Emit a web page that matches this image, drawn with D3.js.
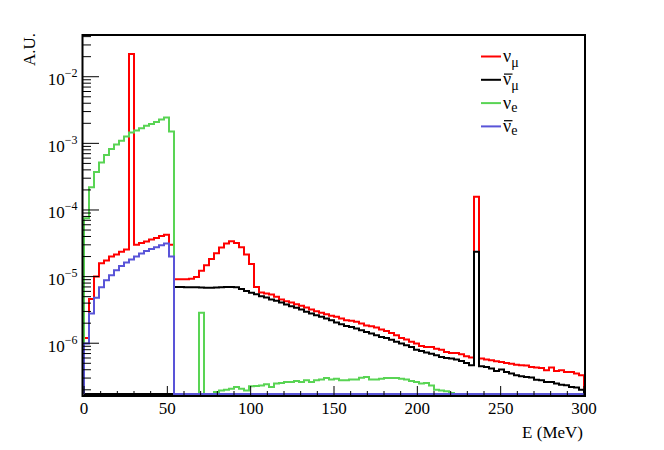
<!DOCTYPE html>
<html>
<head>
<meta charset="utf-8">
<script src="https://cdn.jsdelivr.net/npm/d3@7"></script>
<style>
body { margin: 0; background: #fff; }
text { font-family: "Liberation Serif", "DejaVu Serif", serif; fill: #000; }
</style>
</head>
<body>
<div id="chart"></div>
<script>
var width = 664,
height = 450;

// 100 bins of 3 MeV from 0 to 300
var binEdges = d3.range(0, 301, 3);

var numu = [
	1.2e-6, 4.6e-6, 1.0e-5, 1.58e-5, 1.75e-5, 2.0e-5, 2.15e-5, 2.36e-5, 2.55e-5, 2.2e-2,
	3.0e-5, 3.2e-5, 3.37e-5, 3.6e-5, 3.8e-5, 4.06e-5, 4.26e-5, 3.0e-5, 9.1e-6, 9.1e-6,
	9.1e-6, 9.3e-6, 9.9e-6, 1.22e-5, 1.48e-5, 1.84e-5, 2.24e-5, 2.73e-5, 3.15e-5, 3.4e-5,
	3.2e-5, 2.75e-5, 2.15e-5, 1.54e-5, 7.0e-6, 5.75e-6, 5.6e-6, 5.39e-6, 4.98e-6, 4.54e-6,
	4.28e-6, 4.09e-6, 3.86e-6, 3.64e-6, 3.44e-6, 3.21e-6, 3.03e-6, 2.86e-6, 2.73e-6, 2.58e-6,
	2.49e-6, 2.35e-6, 2.22e-6, 2.17e-6, 2.1e-6, 1.98e-6, 1.85e-6, 1.8e-6, 1.72e-6, 1.61e-6,
	1.53e-6, 1.43e-6, 1.32e-6, 1.2e-6, 1.14e-6, 1.05e-6, 9.9e-7, 9.1e-7, 8.8e-7, 8.8e-7,
	8.3e-7, 8.0e-7, 7.4e-7, 7.15e-7, 7.15e-7, 6.84e-7, 6.38e-7, 6.1e-7, 1.58e-4, 5.89e-7,
	5.69e-7, 5.55e-7, 5.36e-7, 5.24e-7, 5.06e-7, 4.94e-7, 4.77e-7, 4.67e-7, 4.62e-7, 4.41e-7,
	4.31e-7, 4.25e-7, 3.93e-7, 4.31e-7, 3.84e-7, 3.93e-7, 3.71e-7, 3.71e-7, 3.5e-7, 3.3e-7
];

var numubar = [
	0, 0, 0, 0, 0, 0, 0, 0, 0, 0,
	0, 0, 0, 0, 0, 0, 0, 0, 7.0e-6, 7.0e-6,
	6.95e-6, 6.9e-6, 6.9e-6, 6.85e-6, 6.8e-6, 6.8e-6, 6.85e-6, 6.9e-6, 7.0e-6, 7.0e-6,
	6.9e-6, 6.5e-6, 6.1e-6, 5.7e-6, 5.45e-6, 5.09e-6, 4.86e-6, 4.54e-6, 4.33e-6, 4.09e-6,
	3.82e-6, 3.6e-6, 3.4e-6, 3.21e-6, 2.96e-6, 2.8e-6, 2.64e-6, 2.49e-6, 2.35e-6, 2.22e-6,
	2.05e-6, 1.93e-6, 1.82e-6, 1.76e-6, 1.66e-6, 1.57e-6, 1.48e-6, 1.4e-6, 1.32e-6, 1.24e-6,
	1.2e-6, 1.13e-6, 1.05e-6, 9.9e-7, 9.3e-7, 8.8e-7, 8.0e-7, 7.66e-7, 7.24e-7, 6.98e-7,
	6.6e-7, 6.22e-7, 6.01e-7, 5.89e-7, 5.69e-7, 5.42e-7, 5.06e-7, 4.67e-7, 2.36e-5, 4.51e-7,
	4.41e-7, 4.16e-7, 3.84e-7, 4.02e-7, 3.71e-7, 3.5e-7, 3.3e-7, 3.19e-7, 3.11e-7, 3.05e-7,
	2.84e-7, 2.78e-7, 2.62e-7, 2.62e-7, 2.48e-7, 2.39e-7, 2.34e-7, 2.2e-7, 2.17e-7, 2.01e-7
];

var nue = [
	7.5e-5, 2.19e-4, 3.73e-4, 5.14e-4, 6.7e-4, 8.2e-4, 9.6e-4, 1.09e-3, 1.27e-3, 1.46e-3,
	1.56e-3, 1.69e-3, 1.83e-3, 1.96e-3, 2.1e-3, 2.28e-3, 2.44e-3, 1.51e-3, 0, 0,
	0, 0, 0, 2.86e-6, 0, 0, 1.85e-7, 1.96e-7, 2.01e-7, 2.08e-7,
	2.2e-7, 2.08e-7, 1.96e-7, 2.26e-7, 2.28e-7, 2.33e-7, 2.42e-7, 2.2e-7, 2.48e-7, 2.53e-7,
	2.62e-7, 2.62e-7, 2.71e-7, 2.62e-7, 2.78e-7, 2.62e-7, 2.78e-7, 2.85e-7, 3.01e-7, 2.85e-7,
	2.94e-7, 2.78e-7, 2.78e-7, 2.85e-7, 2.85e-7, 3.04e-7, 3.12e-7, 2.85e-7, 2.85e-7, 2.94e-7,
	3.01e-7, 3.01e-7, 3.01e-7, 2.94e-7, 2.85e-7, 2.71e-7, 2.62e-7, 2.48e-7, 2.53e-7, 2.33e-7,
	2.01e-7, 1.96e-7, 1.91e-7, 1.79e-7, 0, 0, 0, 0, 0, 0,
	0, 0, 0, 0, 0, 0, 0, 0, 0, 0,
	0, 0, 0, 0, 0, 0, 0, 0, 0, 0
];

var nuebar = [
	9.9e-7, 2.8e-6, 4.8e-6, 6.9e-6, 8.85e-6, 1.05e-5, 1.25e-5, 1.44e-5, 1.63e-5, 1.81e-5,
	2.0e-5, 2.23e-5, 2.42e-5, 2.6e-5, 2.75e-5, 2.95e-5, 3.15e-5, 2.0e-5, 0, 0,
	0, 0, 0, 0, 0, 0, 0, 0, 0, 0,
	0, 0, 0, 0, 0, 0, 0, 0, 0, 0,
	0, 0, 0, 0, 0, 0, 0, 0, 0, 0,
	0, 0, 0, 0, 0, 0, 0, 0, 0, 0,
	0, 0, 0, 0, 0, 0, 0, 0, 0, 0,
	0, 0, 0, 0, 0, 0, 0, 0, 0, 0,
	0, 0, 0, 0, 0, 0, 0, 0, 0, 0,
	0, 0, 0, 0, 0, 0, 0, 0, 0, 0
];

var xTicks = [0, 50, 100, 150, 200, 250, 300];
var yTickExp = [-6, -5, -4, -3, -2];

var series = [
	{ id: "numu", sub: "\u03bc", bar: false, color: "#ff0000", values: numu },
	{ id: "numubar", sub: "\u03bc", bar: true, color: "#000000", values: numubar },
	{ id: "nue", sub: "e", bar: false, color: "#59d454", values: nue },
	{ id: "nuebar", sub: "e", bar: true, color: "#5954d8", values: nuebar }
];

var plotLeft = 84, plotRight = 584, plotTop = 35, plotBottom = 394;
var yMin = 1.73e-7, yMax = 4.23e-2;

var svg = d3.select("#chart")
.append("svg")
.attr("width", width)
.attr("height", height);

var xScale = d3.scaleLinear()
.domain([0, 300])
.range([plotLeft, plotRight]);

var yScale = d3.scaleLog()
.domain([yMin, yMax])
.range([plotBottom, plotTop])
.clamp(true);

function histPoints(vals) {
	var pts = [[xScale(binEdges[0]), plotBottom]];
	vals.forEach(function(v, i) {
		var yy = v > 0 ? yScale(v) : plotBottom;
		pts.push([xScale(binEdges[i]), yy]);
		pts.push([xScale(binEdges[i + 1]), yy]);
	});
	pts.push([xScale(binEdges[vals.length]), plotBottom]);
	return pts;
}

var line = d3.line();

svg.selectAll("path.hist")
.data(series)
.enter()
.append("path")
.attr("class", "hist")
.attr("d", function(d) { return line(histPoints(d.values)); })
.attr("fill", "none")
.attr("stroke", function(d) { return d.color; })
.attr("stroke-width", 2)
.attr("stroke-linejoin", "miter");

// frame
svg.append("rect")
.attr("x", 82.5)
.attr("y", plotTop)
.attr("width", 585 - 82.5)
.attr("height", 396 - plotTop)
.attr("fill", "none")
.attr("stroke", "#000")
.attr("stroke-width", 2);

// x ticks (inside, from the bottom)
var xMinor = d3.range(0, 301, 10);
svg.selectAll("line.xtick")
.data(xMinor)
.enter()
.append("line")
.attr("x1", function(d) { return xScale(d); })
.attr("x2", function(d) { return xScale(d); })
.attr("y1", 396)
.attr("y2", function(d) { return d % 50 == 0 ? 386 : 391; })
.attr("stroke", "#000")
.attr("stroke-width", 1);

svg.selectAll("text.xlabel")
.data(xTicks)
.enter()
.append("text")
.attr("x", function(d) { return xScale(d); })
.attr("y", 413.5)
.attr("text-anchor", "middle")
.attr("font-size", "17px")
.text(function(d) { return d; });

// y ticks (log, inside from the left)
var yMinor = [];
for (var e = -7; e <= -2; e++) {
	for (var k = 1; k <= 9; k++) {
		var v = k * Math.pow(10, e);
		if (v >= yMin && v <= yMax) yMinor.push({ v: v, major: k == 1 });
	}
}
svg.selectAll("line.ytick")
.data(yMinor)
.enter()
.append("line")
.attr("x1", 82.5)
.attr("x2", function(d) { return d.major ? 99 : 91; })
.attr("y1", function(d) { return yScale(d.v); })
.attr("y2", function(d) { return yScale(d.v); })
.attr("stroke", "#000")
.attr("stroke-width", 1);

var ylab = svg.selectAll("text.ylabel")
.data(yTickExp)
.enter()
.append("text")
.attr("x", 77.5)
.attr("y", function(d) { return yScale(Math.pow(10, d)) + 8.5; })
.attr("text-anchor", "end")
.attr("font-size", "17px");
ylab.append("tspan").text("10");
ylab.append("tspan")
.attr("dy", -8)
.attr("font-size", "12px")
.text(function(d) { return "\u2212" + (-d); });

// axis titles
svg.append("text")
.attr("x", 583)
.attr("y", 438)
.attr("text-anchor", "end")
.attr("font-size", "17px")
.text("E (MeV)");

svg.append("text")
.attr("transform", "translate(35,33) rotate(-90)")
.attr("text-anchor", "end")
.attr("font-size", "17px")
.text("A.U.");

// legend
var legTop = 56.5, legStep = 23.3;
var leg = svg.selectAll("g.leg")
.data(series)
.enter()
.append("g")
.attr("transform", function(d, i) { return "translate(0," + (legTop + i * legStep) + ")"; });

leg.append("line")
.attr("x1", 481)
.attr("x2", 501)
.attr("y1", 0)
.attr("y2", 0)
.attr("stroke", function(d) { return d.color; })
.attr("stroke-width", 2);

var legText = leg.append("text")
.attr("x", 503)
.attr("y", 5.5)
.attr("font-size", "18px");
legText.append("tspan").text("\u03bd");
legText.append("tspan")
.attr("dy", function(d) { return d.sub == "e" ? 3 : 5; })
.attr("font-size", "14px")
.text(function(d) { return d.sub; });

leg.filter(function(d) { return d.bar; })
.append("line")
.attr("x1", 504)
.attr("x2", 512.5)
.attr("y1", -5.7)
.attr("y2", -5.7)
.attr("stroke", "#000")
.attr("stroke-width", 1.2);
</script>
</body>
</html>
